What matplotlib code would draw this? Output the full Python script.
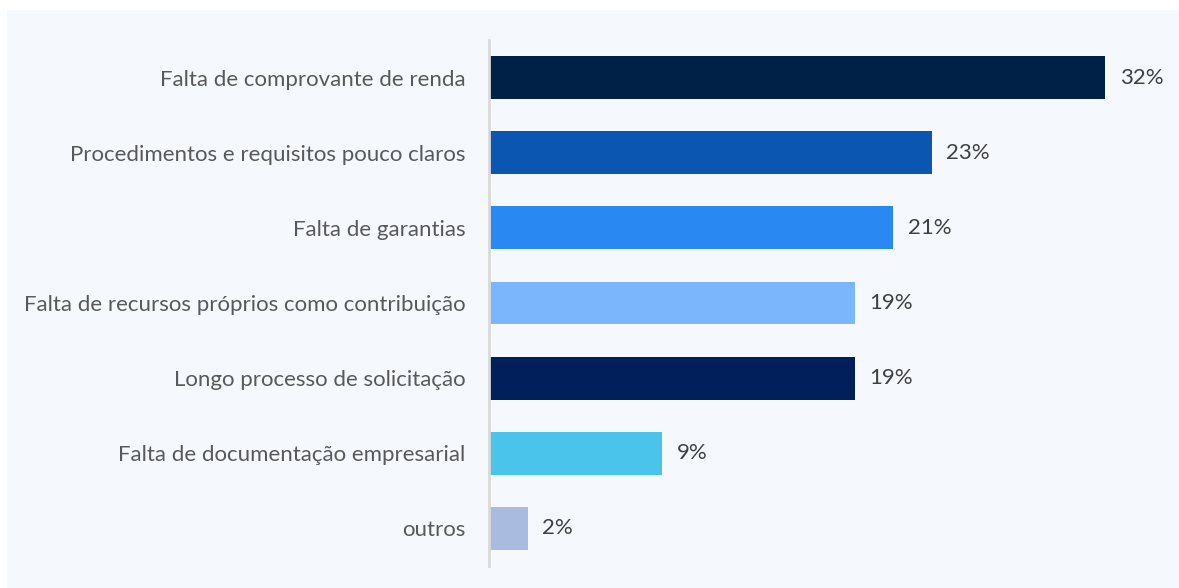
import matplotlib
matplotlib.use('Agg')
import matplotlib.pyplot as plt
from matplotlib.patches import Rectangle

# data
categorias = ['Falta de comprovante de renda',
              'Procedimentos e requisitos pouco claros',
              'Falta de garantias',
              'Falta de recursos próprios como contribuição',
              'Longo processo de solicitação',
              'Falta de documentação empresarial',
              'outros']
valores = [32, 23, 21, 19, 19, 9, 2]
cores = ['#002147', '#0a56b0', '#2a88f2', '#7bb5fb', '#001f5b', '#4bc4eb', '#a9bce0']

plt.rcParams['font.family'] = ['Lato', 'DejaVu Sans']

W, H = 1179, 588
fig = plt.figure(figsize=(W / 100, H / 100), dpi=100)
fig.patch.set_facecolor('white')
bg = '#f5f9fd'
fig.patches.append(Rectangle((7 / W, 0), 1, 1 - 10 / H, transform=fig.transFigure,
                             facecolor=bg, edgecolor='none', zorder=-10))

# axes: zero at x=489px, line from y=40 to y=566
ax = fig.add_axes([489 / W, 1 - 566 / H, (1163 - 489) / W, (566 - 40) / H])
ax.set_facecolor('none')

pos = list(range(len(categorias)))
ax.barh(pos, valores, height=0.57, color=cores)
ax.set_ylim(len(categorias) - 0.5, -0.5)
ax.set_xlim(0, 35)

for y, v in zip(pos, valores):
    ax.text(v + 0.75, y, f'{v}%', va='center', ha='left', fontsize=16, color='#404040')

ax.set_yticks(pos)
ax.set_yticklabels(categorias, fontsize=16, color='#595959')
ax.tick_params(axis='y', length=0, pad=17)
ax.set_xticks([])
for s in ['top', 'right', 'bottom']:
    ax.spines[s].set_visible(False)
ax.spines['left'].set_color('#d9d9d9')
ax.spines['left'].set_linewidth(2)

fig.savefig('out.png', dpi=100)
